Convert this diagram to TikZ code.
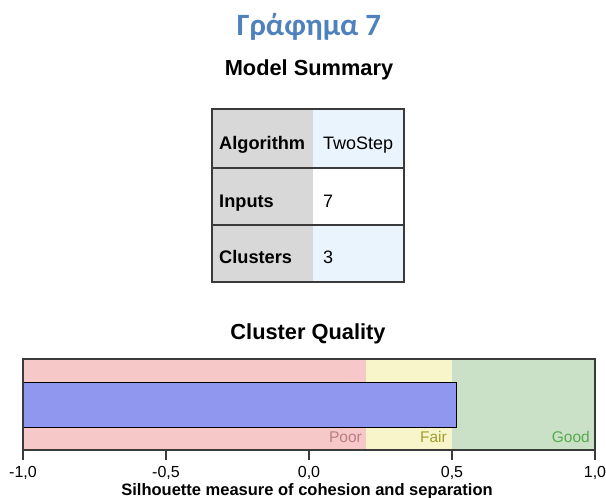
\documentclass[tikz,border=0pt]{standalone}
\usepackage{fontspec}
\setmainfont{Liberation Sans}
\newfontfamily\titlefont{Carlito}

\definecolor{titleblue}{HTML}{4F81BD}
\definecolor{framegray}{HTML}{3A3A3A}
\definecolor{headgray}{HTML}{D8D8D8}
\definecolor{valblue}{HTML}{EAF4FD}
\definecolor{poorfill}{HTML}{F6C8C8}
\definecolor{poortext}{HTML}{BA7E7E}
\definecolor{fairfill}{HTML}{F7F5C9}
\definecolor{fairtext}{HTML}{A39D34}
\definecolor{goodfill}{HTML}{CAE1C7}
\definecolor{goodtext}{HTML}{55AA4D}
\definecolor{barfill}{HTML}{8F97EF}

\begin{document}
\begin{tikzpicture}[x=1pt, y=-1pt,
    frame/.style={draw=framegray, line width=1.2pt},
    heading/.style={anchor=base, inner sep=0pt, font=\fontsize{21.8}{22}\selectfont\bfseries},
    rowhead/.style={anchor=base west, inner sep=0pt, font=\fontsize{18.2}{18}\selectfont\bfseries},
    rowval/.style={anchor=base west, inner sep=0pt, font=\fontsize{18}{18}\selectfont},
    ticklabel/.style={anchor=base, inner sep=0pt, font=\fontsize{16}{16}\selectfont},
    zonelabel/.style={anchor=base east, inner sep=0pt, font=\fontsize{15.5}{15}\selectfont}
]
    \useasboundingbox (0,0) rectangle (606,498);

    % titles
    \node[anchor=base, inner sep=0pt, text=titleblue,
        font=\titlefont\fontsize{31}{31}\selectfont\bfseries] (title) at (309,35) {Γράφημα 7};
    \node[heading] (summary) at (309,75) {Model Summary};

    % model summary table
    \fill[headgray] (212,109) rectangle (313,282);
    \fill[valblue] (313,109) rectangle (404,168);
    \fill[white] (313,168) rectangle (404,225);
    \fill[valblue] (313,225) rectangle (404,282);
    \draw[frame] (212,109) rectangle (404,282);
    \draw[frame] (212,168) -- (404,168);
    \draw[frame] (212,225) -- (404,225);
    \node[rowhead] (algo) at (219,149) {Algorithm};
    \node[rowval] (algoval) at (323,149) {TwoStep};
    \node[rowhead] (inputs) at (219,207) {Inputs};
    \node[rowval] (inputsval) at (323,207) {7};
    \node[rowhead] (clusters) at (219,263) {Clusters};
    \node[rowval] (clustersval) at (323,263) {3};

    % cluster quality chart
    \node[heading] (quality) at (308,339) {Cluster Quality};
    \fill[poorfill] (23,359) rectangle (366,450);
    \fill[fairfill] (366,359) rectangle (452,450);
    \fill[goodfill] (452,359) rectangle (595,450);
    \draw[draw=black, line width=1pt, fill=barfill] (23,382) rectangle (456,427);
    \draw[frame] (23,359) rectangle (595,450);
    \node[zonelabel, text=poortext] (poor) at (362,442) {Poor};
    \node[zonelabel, text=fairtext] (fair) at (447,442) {Fair};
    \node[zonelabel, text=goodtext] (good) at (590,442) {Good};

    % axis
    \foreach \x/\lab in {23/{-1,0}, 166/{-0,5}, 309/{0,0}, 452/{0,5}, 595/{1,0}} {
        \draw[frame] (\x,450) -- (\x,460);
        \node[ticklabel] at (\x,477) {\lab};
    }
    \node[anchor=base, inner sep=0pt, font=\fontsize{16.5}{16.5}\selectfont\bfseries] (axis) at (307,495) {Silhouette measure of cohesion and separation};
\end{tikzpicture}
\end{document}
